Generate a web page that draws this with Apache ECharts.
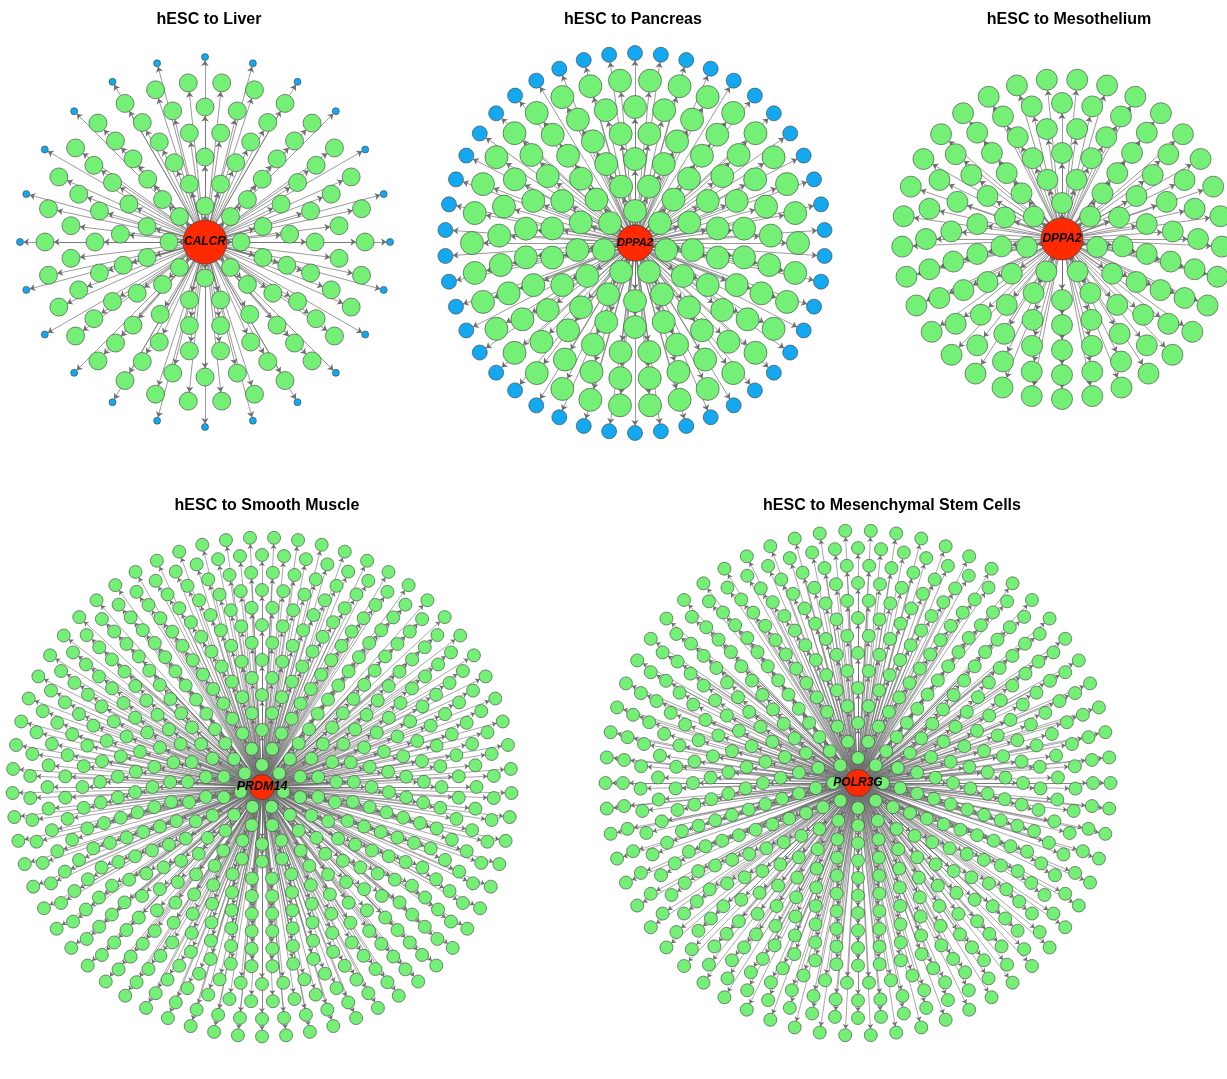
<!DOCTYPE html>
<html>
<head>
<meta charset="utf-8">
<title>hESC regulatory hubs</title>
<script src="https://cdn.jsdelivr.net/npm/echarts@6/dist/echarts.min.js"></script>
<style>
  html, body { margin: 0; padding: 0; background: #ffffff; }
  #chart { width: 1227px; height: 1079px; }
</style>
</head>
<body>
<div id="chart"></div>
<script>
// ---- Data -------------------------------------------------------------
const panelTitles = [
  'hESC to Liver',
  'hESC to Pancreas',
  'hESC to Mesothelium',
  'hESC to Smooth Muscle',
  'hESC to Mesenchymal Stem Cells'
];
const hubGenes = ['CALCR', 'DPPA2', 'DPPA2', 'PRDM14', 'POLR3G'];

// Number of target genes in each shell, inner to outer
const liverTargets        = [8, 12, 17, 22, 26, 30];
const liverOuterTargets   = [24];
const pancreasTargets     = [7, 13, 18, 24, 29, 34];
const pancreasOuterTargets = [46];
const mesotheliumTargets  = [7, 13, 18, 23, 28, 33];
const smoothMuscleTargets = [7, 12, 18, 23, 29, 34, 39, 44, 49, 54, 58, 62, 66, 65];
const mscTargets          = [8, 13, 18, 23, 28, 33, 38, 43, 48, 53, 57, 61, 64, 62];

// ---- Layout (pixels) -------------------------------------------------
const SCALE = 300; // polar radius in px == radius axis max, so 1 unit = 1 px
const panels = [
  { center: [205, 242], titleX: 209, titleY: 12, hubSize: 44, nodeSize: 18, outerSize: 7,
    shells: [36, 60, 85, 110, 135, 160], outerShells: [185],
    targets: liverTargets, outerTargets: liverOuterTargets, fontSize: 12 },
  { center: [635, 243], titleX: 633, titleY: 12, hubSize: 36, nodeSize: 23, outerSize: 15,
    shells: [32, 58, 84, 110, 136, 163], outerShells: [190],
    targets: pancreasTargets, outerTargets: pancreasOuterTargets, fontSize: 11 },
  { center: [1062, 239], titleX: 1069, titleY: 12, hubSize: 42, nodeSize: 21, outerSize: 0,
    shells: [36, 61, 86, 111, 136, 160], outerShells: [],
    targets: mesotheliumTargets, outerTargets: [], fontSize: 12 },
  { center: [262, 787], titleX: 267, titleY: 498, hubSize: 25, nodeSize: 13, outerSize: 0,
    shells: [22, 39.5, 57, 74.5, 92, 109.5, 127, 144.5, 162, 179.5, 197, 214.5, 232, 249.5], outerShells: [],
    targets: smoothMuscleTargets, outerTargets: [], fontSize: 12.5 },
  { center: [858, 783], titleX: 892, titleY: 498, hubSize: 27, nodeSize: 13, outerSize: 0,
    shells: [25, 42.5, 60, 77.5, 95, 112.5, 130, 147.5, 165, 182.5, 200, 217.5, 235, 252.5], outerShells: [],
    targets: mscTargets, outerTargets: [], fontSize: 12 }
];

const HUB_COLOR = '#ff2a00';
const TARGET_COLOR = '#73f075';
const OUTER_COLOR = '#14a8f0';
const BORDER = '#3c3c3c';

// ---- Build one star network per panel -------------------------------
function buildNetwork(p, hub) {
  const nodes = [{
    name: hub,
    value: [0, 0],
    symbolSize: p.hubSize,
    itemStyle: { color: HUB_COLOR, borderColor: BORDER, borderWidth: 0.7 },
    label: {
      show: true, position: 'inside', formatter: hub,
      fontFamily: 'Liberation Sans, Arial, sans-serif',
      fontWeight: 'bold', fontStyle: 'italic', fontSize: p.fontSize, color: '#000'
    },
    z: 5
  }];
  const links = [];
  let id = 0;
  function addShells(radii, counts, size, color) {
    counts.forEach((n, k) => {
      const step = 360 / n;
      const offset = (k % 2) * step / 2;
      for (let j = 0; j < n; j++) {
        const name = 't' + (id++);
        nodes.push({
          name: name,
          value: [radii[k], offset + j * step],
          symbolSize: size,
          itemStyle: { color: color, borderColor: BORDER, borderWidth: 0.6 }
        });
        links.push({ source: hub, target: name });
      }
    });
  }
  addShells(p.shells, p.targets, p.nodeSize, TARGET_COLOR);
  addShells(p.outerShells, p.outerTargets, p.outerSize, OUTER_COLOR);
  return { nodes, links };
}

const chart = echarts.init(document.getElementById('chart'), null, { renderer: 'canvas' });

const option = {
  animation: false,
  backgroundColor: '#ffffff',
  title: panels.map((p, i) => ({
    text: panelTitles[i],
    left: p.titleX,
    top: p.titleY,
    textAlign: 'center',
    padding: 0,
    textStyle: {
      fontFamily: 'Liberation Sans, Arial, sans-serif',
      fontWeight: 'bold', fontSize: 16, color: '#000'
    }
  })),
  polar: panels.map(p => ({ center: p.center, radius: SCALE })),
  angleAxis: panels.map((p, i) => ({
    polarIndex: i, type: 'value', min: 0, max: 360, startAngle: 90, clockwise: true, show: false
  })),
  radiusAxis: panels.map((p, i) => ({
    polarIndex: i, type: 'value', min: 0, max: SCALE, show: false
  })),
  series: panels.map((p, i) => {
    const net = buildNetwork(p, hubGenes[i]);
    const small = p.nodeSize < 15;
    return {
      type: 'graph',
      coordinateSystem: 'polar',
      polarIndex: i,
      layout: 'none',
      silent: true,
      roam: false,
      edgeSymbol: ['none', 'arrow'],
      edgeSymbolSize: [0, small ? 4.5 : 5.5],
      lineStyle: { color: '#6e6e6e', width: small ? 0.6 : 0.7, opacity: 1, curveness: 0 },
      emphasis: { disabled: true },
      data: net.nodes,
      links: net.links
    };
  })
};

chart.setOption(option);
</script>
</body>
</html>
